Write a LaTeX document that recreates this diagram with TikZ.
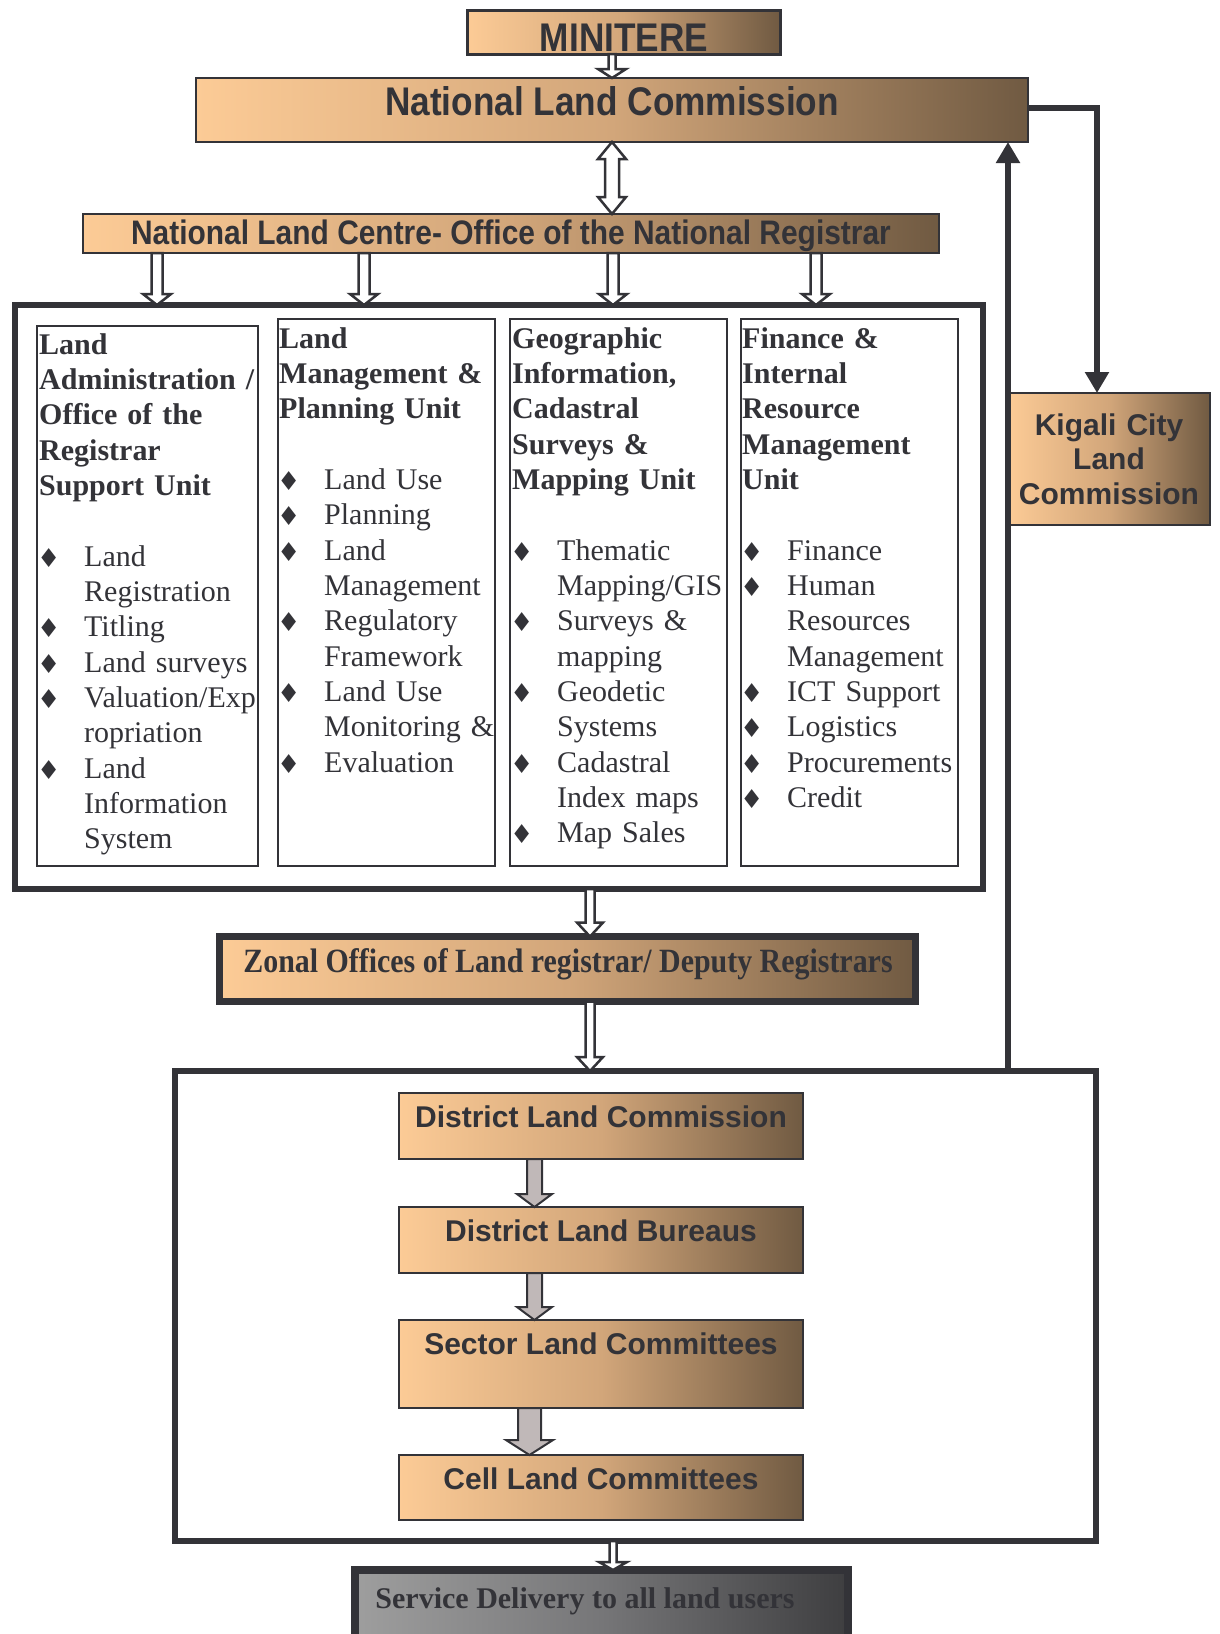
\documentclass[tikz,border=0pt]{standalone}
\usepackage{fontspec}
\setmainfont{Liberation Serif}
\newfontfamily\hv{Liberation Sans}
\newfontfamily\hvn[FakeStretch=0.88]{Liberation Sans}
\newfontfamily\tmn[FakeStretch=0.88]{Liberation Serif}
\newfontfamily\dv{DejaVu Sans}
\usetikzlibrary{arrows.meta,calc}
\definecolor{ink}{RGB}{51,51,56}
\definecolor{peach}{RGB}{252,203,150}
\definecolor{brownd}{RGB}{112,90,66}
\definecolor{tanm}{RGB}{210,166,122}
\definecolor{gl}{RGB}{158,158,158}
\definecolor{gm}{RGB}{118,118,120}
\definecolor{gd}{RGB}{62,62,64}
\definecolor{arrowgray}{RGB}{192,184,184}
\newcommand\bu{\hspace*{-2pt}\makebox[47pt][l]{\raisebox{-1pt}{\dv\fontsize{26}{26}\selectfont ♦}}}
\newcommand\nb{\hspace*{45pt}}
\newcommand\blkdown[6]{%
 \path[#6] let \p1=#1, \p2=#2 in
  (\x1-#3pt,\y1) -- (\x1-#3pt,\y2+#5pt) -- (\x1-#4pt,\y2+#5pt) -- (\x1,\y2)
  -- (\x1+#4pt,\y2+#5pt) -- (\x1+#3pt,\y2+#5pt) -- (\x1+#3pt,\y1) -- cycle;}
\newcommand\blkboth[6]{%
 \path[#6] let \p1=#1, \p2=#2 in
  (\x1,\y1) -- (\x1+#4pt,\y1-#5pt) -- (\x1+#3pt,\y1-#5pt) -- (\x1+#3pt,\y2+#5pt)
  -- (\x1+#4pt,\y2+#5pt) -- (\x1,\y2) -- (\x1-#4pt,\y2+#5pt) -- (\x1-#3pt,\y2+#5pt)
  -- (\x1-#3pt,\y1-#5pt) -- (\x1-#4pt,\y1-#5pt) -- cycle;}
\tikzset{
 gbox/.style={draw=ink, line width=2pt, left color=peach, right color=brownd, middle color=tanm,
   anchor=north west, inner sep=0pt, outer sep=0pt},
 graybox/.style={draw=ink, left color=gl, right color=gd, middle color=gm,
   anchor=north west, inner sep=0pt, outer sep=0pt},
 wbox/.style={draw=ink, fill=white, anchor=north west, inner sep=0pt, outer sep=0pt},
 hollow/.style={draw=ink, fill=white, line width=2.5pt, line join=miter},
 grayarr/.style={draw=ink, fill=arrowgray, line width=2pt, line join=miter},
 conn/.style={draw=ink, line width=6pt},
 ctip/.style={-{Triangle[width=23pt,length=21pt]}},
 narrowlbl/.style={anchor=base, text=ink, font=\hvn\bfseries\fontsize{#1}{#1}\selectfont},
 sanslbl/.style={anchor=base, text=ink, font=\hv\bfseries\fontsize{30}{34.5}\selectfont},
 coltext/.style={anchor=base west, text=ink, inner sep=0pt, text width=300pt, align=left,
   font=\fontsize{30}{35.35}\selectfont}
}
\begin{document}
\begin{tikzpicture}[x=1pt,y=-1pt]
\useasboundingbox[fill=white] (0,0) rectangle (1219,1634);

% top boxes
\node[gbox, line width=3pt, minimum width=313pt, minimum height=44pt] (minitere) at (467,10) {};
\node[narrowlbl=40] (minitereT) at (624,51) {MINITERE};
\node[gbox, minimum width=832pt, minimum height=64pt] (nlc) at (196,78) {};
\node[narrowlbl=40] (nlcT) at (612,115) {National Land Commission};
\node[gbox, minimum width=856pt, minimum height=39pt] (nlcentre) at (83,214) {};
\node[narrowlbl=34] (nlcentreT) at (511,244) {National Land Centre- Office of the National Registrar};

% Kigali
\node[gbox, minimum width=202pt, minimum height=132pt] (kigali) at (1008,393) {};
\node[sanslbl, text width=200pt, align=center] (kigaliT) at (1109,435) {Kigali City\\Land\\Commission};

% units box
\node[wbox, line width=6pt, minimum width=968pt, minimum height=584pt] (unitbox) at (15,305) {};
\node[wbox, line width=2.5pt, minimum width=221pt, minimum height=540pt] (col1) at (37,326) {};
\node[wbox, line width=2.5pt, minimum width=217pt, minimum height=547pt] (col2) at (278,319) {};
\node[wbox, line width=2.5pt, minimum width=217pt, minimum height=547pt] (col3) at (510,319) {};
\node[wbox, line width=2.5pt, minimum width=217pt, minimum height=547pt] (col4) at (741,319) {};

\node[coltext] (col1T) at (39,354) {\textbf{Land}\\ \textbf{Administration /}\\ \textbf{Office of the}\\ \textbf{Registrar}\\ \textbf{Support Unit}\\[35.35pt]
\bu Land\\ \nb Registration\\ \bu Titling\\ \bu Land surveys\\ \bu Valuation/Exp\\ \nb ropriation\\ \bu Land\\ \nb Information\\ \nb System};
\node[coltext] (col2T) at (279,348) {\textbf{Land}\\ \textbf{Management \&}\\ \textbf{Planning Unit}\\[35.35pt]
\bu Land Use\\ \bu Planning\\ \bu Land\\ \nb Management\\ \bu Regulatory\\ \nb Framework\\ \bu Land Use\\ \nb Monitoring \&\\ \bu Evaluation};
\node[coltext] (col3T) at (512,348) {\textbf{Geographic}\\ \textbf{Information,}\\ \textbf{Cadastral}\\ \textbf{Surveys \&}\\ \textbf{Mapping Unit}\\[35.35pt]
\bu Thematic\\ \nb Mapping/GIS\\ \bu Surveys \&\\ \nb mapping\\ \bu Geodetic\\ \nb Systems\\ \bu Cadastral\\ \nb Index maps\\ \bu Map Sales};
\node[coltext] (col4T) at (742,348) {\textbf{Finance \&}\\ \textbf{Internal}\\ \textbf{Resource}\\ \textbf{Management}\\ \textbf{Unit}\\[35.35pt]
\bu Finance\\ \bu Human\\ \nb Resources\\ \nb Management\\ \bu ICT Support\\ \bu Logistics\\ \bu Procurements\\ \bu Credit};

% zonal
\node[gbox, line width=7pt, minimum width=696pt, minimum height=65pt] (zonal) at (219.5,936.5) {};
\node[anchor=base, text=ink, font=\tmn\bfseries\fontsize{34}{34}\selectfont] (zonalT) at (568,972) {Zonal Offices of Land registrar/ Deputy Registrars};

% lower box
\node[wbox, line width=6pt, minimum width=921pt, minimum height=470pt] (lowerbox) at (175,1071) {};
\node[gbox, minimum width=404pt, minimum height=66pt] (dlc) at (399,1093) {};
\node[sanslbl] (dlcT) at (601,1127) {District Land Commission};
\node[gbox, minimum width=404pt, minimum height=66pt] (dlb) at (399,1207) {};
\node[sanslbl] (dlbT) at (601,1241) {District Land Bureaus};
\node[gbox, minimum width=404pt, minimum height=88pt] (sector) at (399,1320) {};
\node[sanslbl] (sectorT) at (601,1354) {Sector Land Committees};
\node[gbox, minimum width=404pt, minimum height=65pt] (cell) at (399,1455) {};
\node[sanslbl] (cellT) at (601,1489) {Cell Land Committees};

% service
\node[graybox, line width=8pt, minimum width=493pt, minimum height=90pt] (service) at (355,1570) {};
\node[anchor=base, text=ink, font=\bfseries\fontsize{30}{30}\selectfont] (serviceT) at (585,1608) {Service Delivery to all land users};

% block arrows
\blkdown{(minitere.south -| nlc.north)}{(nlc.north)}{3.5}{14}{9}{hollow}
\blkboth{(nlc.south)}{(nlcentre.north -| nlc.south)}{7}{14}{17}{hollow}
\foreach \xx in {157,364,613,816}{
  \blkdown{(\xx,0 |- nlcentre.south)}{(\xx,0 |- unitbox.north)}{5.5}{14}{11}{hollow}
}
\blkdown{(590,0 |- unitbox.south)}{(590,0 |- zonal.north)}{4.5}{13}{14}{hollow}
\blkdown{(590,0 |- zonal.south)}{(590,0 |- lowerbox.north)}{4.5}{13}{14}{hollow}
\blkdown{(613,0 |- lowerbox.south)}{(613,0 |- service.north)}{3.5}{14}{8}{hollow}
\blkdown{(534.5,0 |- dlc.south)}{(534.5,0 |- dlb.north)}{7.5}{17.5}{13}{grayarr}
\blkdown{(534.5,0 |- dlb.south)}{(534.5,0 |- sector.north)}{7.5}{17.5}{13}{grayarr}
\blkdown{(529.5,0 |- sector.south)}{(529.5,0 |- cell.north)}{11.5}{23.5}{15}{grayarr}

% connectors
\draw[conn, ctip] (nlc.east |- 0,108) -| (1097,0 |- kigali.north);
\draw[conn, ctip] (kigali.west |- lowerbox.north) -- (kigali.west |- nlc.south);
\end{tikzpicture}
\end{document}
